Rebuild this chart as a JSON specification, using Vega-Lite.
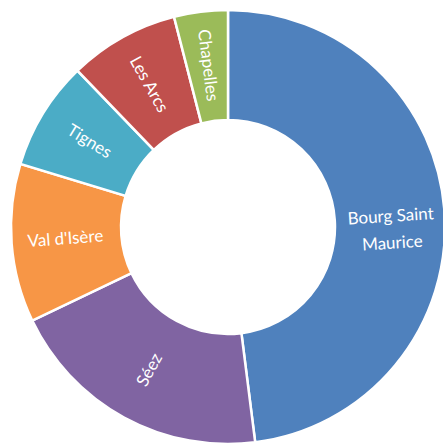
{
  "$schema": "https://vega.github.io/schema/vega-lite/v6.json",
  "width": 456,
  "height": 454,
  "padding": 0,
  "autosize": {"type": "none"},
  "background": "white",
  "data": {
    "values": [
      {"commune": "Bourg Saint\nMaurice", "value": 48.0},
      {"commune": "Séez", "value": 19.9},
      {"commune": "Val d'Isère", "value": 11.8},
      {"commune": "Tignes", "value": 8.1},
      {"commune": "Les Arcs", "value": 8.2},
      {"commune": "Chapelles", "value": 4.0}
    ]
  },
  "transform": [
    {"window": [{"op": "row_number", "as": "rank"}]},
    {"joinaggregate": [{"op": "sum", "field": "value", "as": "total"}]},
    {"window": [{"op": "sum", "field": "value", "as": "cum"}], "sort": [{"field": "rank"}], "frame": [null, 0]},
    {"calculate": "(datum.cum - datum.value / 2) / datum.total * 360", "as": "mid"},
    {"calculate": "datum.mid < 180 ? datum.mid - 90 : datum.mid - 270", "as": "rot"}
  ],
  "encoding": {
    "theta": {"field": "value", "type": "quantitative", "stack": true},
    "order": {"field": "rank", "type": "quantitative"}
  },
  "layer": [
    {
      "mark": {"type": "arc", "radius": 217, "radius2": 107, "stroke": "white", "strokeWidth": 2.5},
      "encoding": {
        "color": {
          "field": "commune",
          "type": "nominal",
          "sort": null,
          "legend": null,
          "scale": {
            "domain": ["Bourg Saint\nMaurice", "Séez", "Val d'Isère", "Tignes", "Les Arcs", "Chapelles"],
            "range": ["#4F81BD", "#8064A2", "#F79646", "#4BACC6", "#C0504D", "#9BBB59"]
          }
        }
      }
    },
    {
      "mark": {"type": "text", "radius": 163, "font": "Lato", "fontSize": 17, "fill": "white", "lineBreak": "\n", "lineHeight": 27, "align": "center", "baseline": "middle"},
      "encoding": {
        "text": {"field": "commune", "type": "nominal"},
        "angle": {"field": "rot", "type": "quantitative", "scale": null}
      }
    }
  ]
}
